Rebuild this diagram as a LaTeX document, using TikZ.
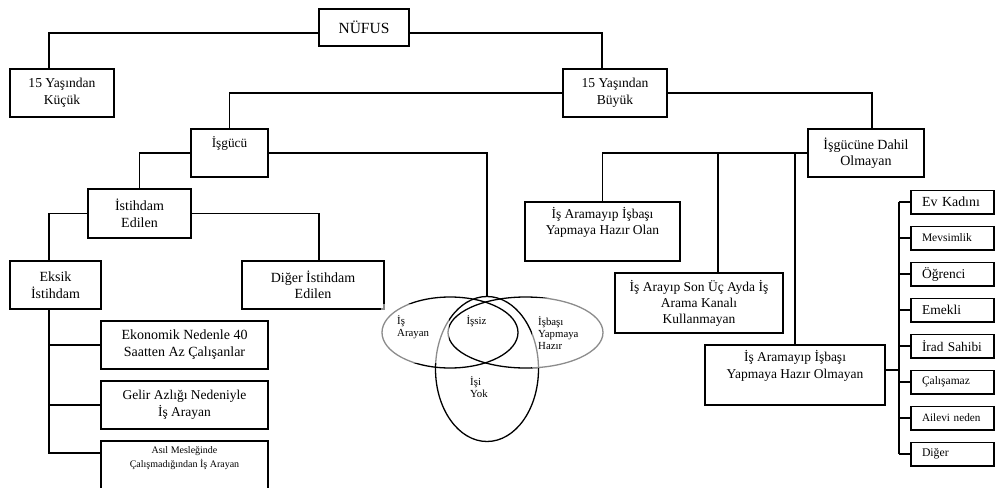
\documentclass[tikz,border=0pt]{standalone}
\usepackage{fontspec}
\setmainfont{Liberation Serif}
\usepackage{tikz}
\usetikzlibrary{shapes.geometric, positioning, calc}

\begin{document}
\begin{tikzpicture}[
    x=1pt, y=-1pt,
    box/.style={
        draw,
        line width=1.5pt,
        align=center,
        inner sep=0pt,
        font=\fontsize{13.5}{16.5}\selectfont
    },
    item/.style={
        box,
        minimum width=83pt,
        minimum height=23.5pt,
        text width=61pt,
        align=left
    },
    link/.style={
        line width=1.5pt
    },
    venn/.style={
        draw,
        ellipse,
        line width=1.3pt,
        inner sep=0pt
    },
    vlabel/.style={
        fill=white,
        fill opacity=0.55,
        text opacity=1,
        align=left,
        inner sep=0pt,
        font=\fontsize{10.8}{12}\selectfont
    }
]
\useasboundingbox (0,0) rectangle (995,487);

% Top Level
\node[box, minimum width=90pt, minimum height=37pt, font=\fontsize{15.5}{18}\selectfont] (nufus) at (364,27.5) {NÜFUS};
\node[box, minimum width=104pt, minimum height=48pt, font=\fontsize{13.6}{17}\selectfont] (kucuk) at (62,93) {15 Yaşından\\Küçük};
\node[box, minimum width=104pt, minimum height=48pt, font=\fontsize{13.6}{17}\selectfont] (buyuk) at (615,93) {15 Yaşından\\Büyük};

\draw[link] ([yshift=-5.5pt]nufus.west) -| ([xshift=-13pt]kucuk.north);
\draw[link] ([yshift=-5.5pt]nufus.east) -| ([xshift=-13pt]buyuk.north);

% Isgucu Block
\node[box, minimum width=77pt, minimum height=48pt, font=\fontsize{13.3}{16.5}\selectfont] (isgucu) at (229.5,153) {İşgücü\\\strut};
\node[box, minimum width=103pt, minimum height=49pt, font=\fontsize{14}{16.5}\selectfont] (istihdam) at (139.5,213.5) {İstihdam\\Edilen};
\node[box, minimum width=91pt, minimum height=48pt, font=\fontsize{14}{16.5}\selectfont] (eksik) at (55.5,285) {Eksik\\İstihdam};
\node[box, minimum width=142pt, minimum height=48pt, font=\fontsize{14}{16.5}\selectfont] (diger) at (313,285) {Diğer İstihdam\\Edilen};

\draw[link] (buyuk.west) -| (isgucu.north);
\draw[link] (isgucu.west) -| (istihdam.north);
\draw[link] (istihdam.west) -| ([xshift=-6.5pt]eksik.north);
\draw[link] (istihdam.east) -| ([xshift=6pt]diger.north);

% Eksik Istihdam items
\node[box, minimum width=167pt, minimum height=48pt, font=\fontsize{14}{17}\selectfont] (ekonomik) at (184.5,345) {Ekonomik Nedenle 40\\Saatten Az Çalışanlar};
\node[box, minimum width=167pt, minimum height=48pt] (gelir) at (184.5,405) {Gelir Azlığı Nedeniyle\\İş Arayan};
\node[box, minimum width=167pt, minimum height=51pt, font=\fontsize{10}{14.5}\selectfont] (asil) at (184.5,466.5) {Asıl Mesleğinde\\Çalışmadığından İş Arayan\\\strut};

\coordinate (ebus) at ([xshift=-6.5pt]eksik.south);
\draw[link] (ebus) |- ([yshift=13.5pt]asil.west);
\draw[link] (ekonomik.west) -- (ekonomik.west -| ebus);
\draw[link] (gelir.west) -- (gelir.west -| ebus);

% Venn
\node[venn, minimum width=136pt, minimum height=71pt] (arayan) at (450,332.5) {};
\node[venn, minimum width=155pt, minimum height=71pt] (hazir) at (525.5,332.5) {};
\node[venn, minimum width=103pt, minimum height=145pt] (yok) at (487,369) {};

\node[vlabel, minimum width=68pt, minimum height=59pt, text width=36pt, anchor=north west] (larayan) at (381,304) {İş\\Arayan\\\strut};
\node[vlabel, minimum width=74pt, minimum height=70pt, text width=62pt, anchor=north west] (lhazir) at (532,298) {İşbaşı\\Yapmaya\\Hazır};
\node[vlabel, fill=none] (lissiz) at (476.5,321) {İşsiz};
\node[vlabel, fill=none, anchor=west] (lyok) at (470,387.5) {İşi\\Yok};

\draw[link] (isgucu.east) -| (yok.north);

% Isgucune Dahil Olmayan Block
\node[box, minimum width=116pt, minimum height=48pt, font=\fontsize{14}{16}\selectfont] (dahil) at (866,153) {İşgücüne Dahil\\Olmayan};
\node[box, minimum width=155pt, minimum height=59pt] (olan) at (602.5,231.5) {İş Aramayıp İşbaşı\\Yapmaya Hazır Olan\\\strut};
\node[box, minimum width=168pt, minimum height=60pt, font=\fontsize{13.5}{16}\selectfont] (sonuc) at (699,303) {İş Arayıp Son Üç Ayda İş\\Arama Kanalı\\Kullanmayan};
\node[box, minimum width=180pt, minimum height=60pt] (olmayan) at (795,375) {İş Aramayıp İşbaşı\\Yapmaya Hazır Olmayan\\\strut};

\draw[link] (buyuk.east) -| ([xshift=6pt]dahil.north);
\draw[link] (dahil.west) -| (olan.north);
\draw[link] ([xshift=19pt]sonuc.north) -- ([xshift=19pt]sonuc.north |- dahil.west);
\draw[link] (olmayan.north) -- (olmayan.north |- dahil.west);

% Reasons column
\foreach \txt/\fs [count=\i] in {Ev Kadını/13.9, Mevsimlik/11.5, Öğrenci/13.5, Emekli/13.5, İrad Sahibi/13.3, Çalışamaz/11.5, Ailevi neden/11.2, Diğer/11.7} {
    \node[item, font=\fontsize{\fs}{\fs}\selectfont] (r\i) at (952.5,166+36*\i) {\txt};
}

\coordinate (rbus) at ([xshift=13pt, yshift=5pt]olmayan.east);
\draw[link] ([yshift=5pt]olmayan.east) -- (rbus);
\draw[link] (r1.west -| rbus) -- (r8.west -| rbus);
\foreach \i in {1,...,8} {
    \draw[link] (r\i.west) -- (r\i.west -| rbus);
}

\end{tikzpicture}
\end{document}
